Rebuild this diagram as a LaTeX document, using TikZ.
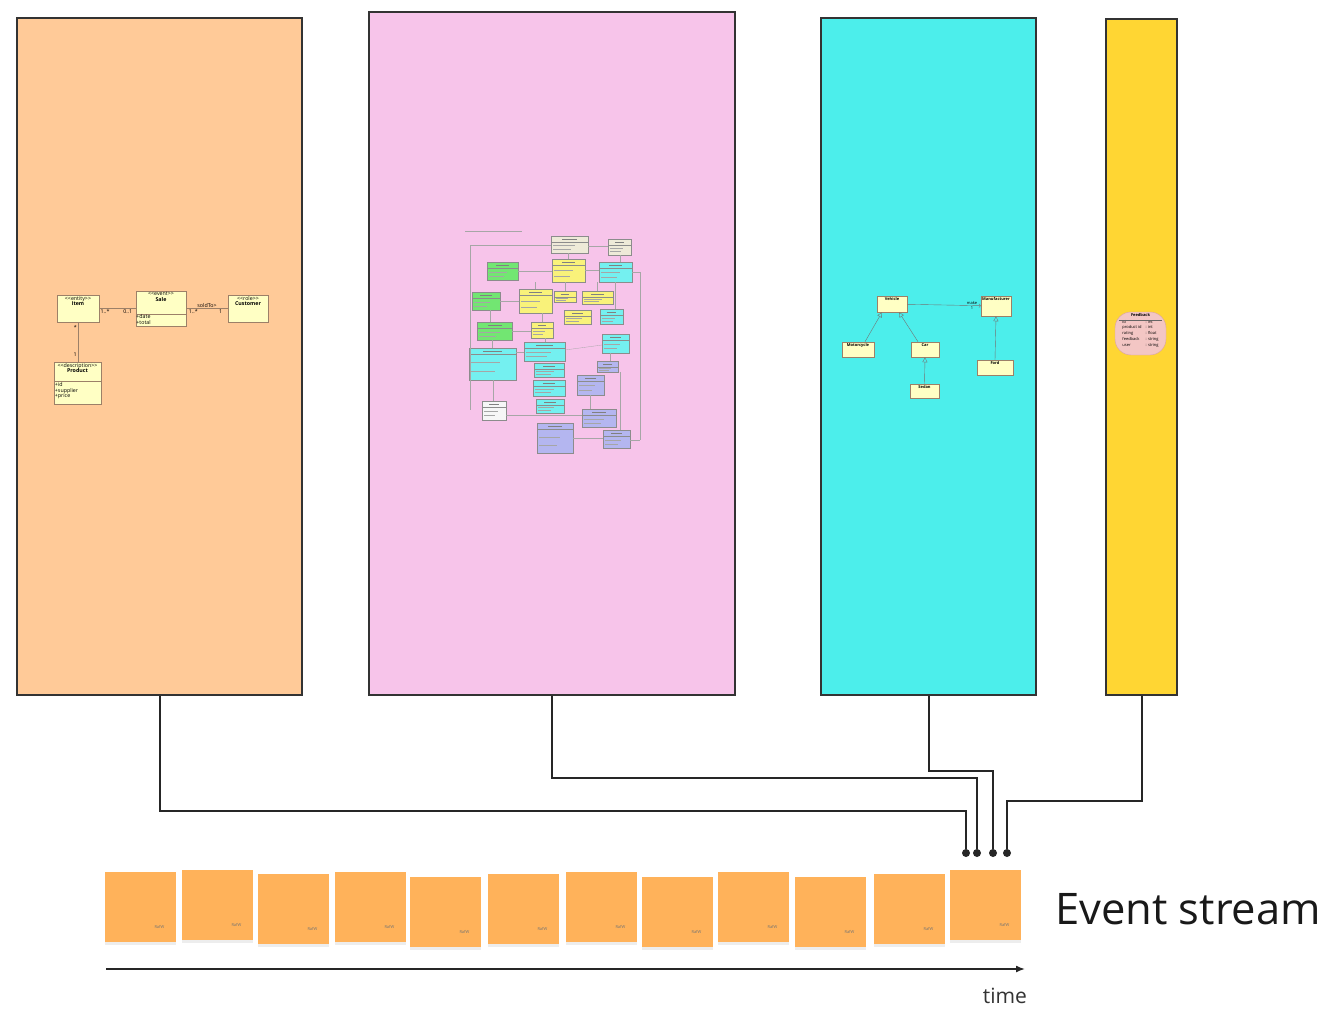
\documentclass[tikz,border=0pt]{standalone}
\usepackage{fontspec}
\setmainfont{Open Sans}
\usetikzlibrary{positioning, arrows.meta, shadows, calc}

\definecolor{panelorange}{HTML}{FFCA98}
\definecolor{panelpink}{HTML}{F7C4EA}
\definecolor{panelcyan}{HTML}{4CEEEB}
\definecolor{panelyellow}{HTML}{FFD633}
\definecolor{notefill}{HTML}{FFB25A}
\definecolor{umlfill}{HTML}{FFFFC4}
\definecolor{umledge}{HTML}{9C8068}
\definecolor{fbfill}{HTML}{F3C6C4}
\definecolor{fbedge}{HTML}{D9A3A0}
\definecolor{pbeige}{HTML}{EEEAD8}
\definecolor{pgreen}{HTML}{72E672}
\definecolor{pyellow}{HTML}{F9F27A}
\definecolor{pcyan}{HTML}{74F0F0}
\definecolor{plav}{HTML}{B4B6F0}
\definecolor{pwhite}{HTML}{F6F6F6}

\newcommand{\umlfont}{\fontsize{4}{4.4}\selectfont}
\newcommand{\salesfont}{\fontsize{5.3}{5.8}\selectfont}
\newcommand{\stereo}[1]{<{}<#1>{}>}

\begin{document}
\begin{tikzpicture}[
    x = 1pt, y = -1pt,
    panel/.style    = {draw = black!80, line width = 2pt, anchor = north west, inner sep = 0pt},
    umlcls/.style   = {draw = umledge, fill = umlfill, line width = 0.5pt, inner sep = 0pt},
    umltitle/.style = {anchor = north, align = center, font = \umlfont, inner sep = 1.2pt},
    umlattr/.style  = {anchor = north west, align = left, font = \umlfont, inner sep = 1pt},
    umlline/.style  = {draw = umledge, line width = 0.5pt},
    mult/.style     = {font = \umlfont, inner sep = 1pt},
    gen/.style      = {draw = black!55, line width = 0.4pt, -{Triangle[open, length = 5pt, width = 5pt]}},
    assoc/.style    = {draw = black!55, line width = 0.4pt, -{To[length = 2pt]}},
    pbox/.style     = {draw = black!45, line width = 0.4pt},
    plink/.style    = {draw = black!35, line width = 0.3pt},
    note/.style     = {fill = notefill, anchor = north west, minimum width = 71, minimum height = 70, inner sep = 0pt,
                       drop shadow = {shadow xshift = 0pt, shadow yshift = -2.5pt, opacity = 0.07, fill = black}},
    notetag/.style  = {font = \fontsize{4}{4}\selectfont, text = black!55, inner sep = 0pt},
    conn/.style     = {draw = black!85, line width = 2pt},
    linkdot/.style  = {circle, fill = black!85, inner sep = 0pt, minimum size = 8pt},
    timeline/.style = {draw = black!85, line width = 1.5pt, -{Latex[length = 9pt, width = 7pt]}},
]

\useasboundingbox (0,0) rectangle (1334,1022);
\fill[white] (0,0) rectangle (1334,1022);

% ---------- the four panels ----------
\node[panel, fill = panelorange, minimum width = 285, minimum height = 677] (sales)         at (16,17)   {};
\node[panel, fill = panelpink,   minimum width = 366, minimum height = 683] (domain)        at (368,11)  {};
\node[panel, fill = panelcyan,   minimum width = 215, minimum height = 677] (vehicles)      at (820,17)  {};
\node[panel, fill = panelyellow, minimum width = 71,  minimum height = 676] (feedbackpanel) at (1105,18) {};

% ---------- sales model (orange) ----------
\begin{scope}[umltitle/.append style = {font = \salesfont}, umlattr/.append style = {font = \salesfont},
              mult/.append style = {font = \salesfont}]
\node[umlcls, minimum width = 42, minimum height = 27,
      label = {[umltitle]north:{\stereo{entity}\\\textbf{Item}}}] (item) at (78,308.5) {};
\node[umlcls, minimum width = 50, minimum height = 35,
      label = {[umltitle]north:{\stereo{event}\\\textbf{Sale}}}] (sale) at (161,308.5) {};
\node[umlcls, minimum width = 40, minimum height = 27,
      label = {[umltitle]north:{\stereo{role}\\\textbf{Customer}}}] (customer) at (248,308.5) {};
\node[umlcls, minimum width = 47, minimum height = 42,
      label = {[umltitle]north:{\stereo{description}\\\textbf{Product}}}] (product) at (77.5,383) {};

\draw[umlline] ([yshift = -5.5pt]sale.west) -- ([yshift = -5.5pt]sale.east);
\node[umlattr, inner sep = 0.5pt] (saleattr) at ([yshift = -5.5pt]sale.west) {+date\\+total};
\draw[umlline] ([yshift = 2pt]product.west) -- ([yshift = 2pt]product.east);
\node[umlattr] (productattr) at ([yshift = 2pt]product.west) {+id\\+supplier\\+price};

\draw[umlline] (item) -- node[mult, pos = 0.16, below] {1..*} node[mult, pos = 0.78, below] {0..1} (sale);
\draw[umlline] (sale) -- node[mult, midway, above] {soldTo>{}}
    node[mult, pos = 0.17, below] {1..*} node[mult, pos = 0.83, below] {1} (customer);
\draw[umlline] (item.south) -- node[mult, pos = 0.12, left] {*} node[mult, pos = 0.82, left] {1} (item.south |- product.north);
\end{scope}

% ---------- domain model (pink), too small to read ----------
\foreach \xa/\ya/\xb/\yb/\bc in {
    551/236/588/253/pbeige, 608/239/631/255/pbeige,
    487/262/518/280/pgreen, 552/259/585/282/pyellow, 599/262/632/282/pcyan,
    472/292/500/310/pgreen, 519/289/552/313/pyellow, 554/291/576/302/pyellow, 582/291/613/304/pyellow,
    564/310/591/324/pyellow, 600/309/623/324/pcyan, 477/322/512/340/pgreen, 531/322/553/338/pyellow,
    602/334/629/353/pcyan, 524/342/565/361/pcyan, 469/348/516/380/pcyan, 534/363/564/377/pcyan,
    533/380/565/396/pcyan, 536/399/564/413/pcyan, 597/361/618/372/plav, 577/375/604/395/plav,
    482/401/506/420/pwhite, 582/409/616/427/plav, 537/423/573/453/plav, 603/430/630/448/plav} {
    \draw[pbox, fill = \bc] (\xa,\ya) rectangle (\xb,\yb);
    \draw[black!50, line width = 0.5pt] ({\xa+0.3*(\xb-\xa)},{\ya+3}) -- ({\xb-0.3*(\xb-\xa)},{\ya+3});
    \draw[pbox] (\xa,{\ya+6}) -- (\xb,{\ya+6});
    \draw[black!35, line width = 0.4pt] ({\xa+2},{\ya+6+(\yb-\ya-6)/3}) -- ({\xb-0.35*(\xb-\xa)},{\ya+6+(\yb-\ya-6)/3});
    \draw[black!35, line width = 0.4pt] ({\xa+2},{\ya+6+2*(\yb-\ya-6)/3}) -- ({\xb-0.45*(\xb-\xa)},{\ya+6+2*(\yb-\ya-6)/3});
}
\foreach \xa/\ya/\xb/\yb in {
    518/271/552/271, 588/246/608/246, 585/270/599/270, 568/253/568/259, 620/255/620/262,
    535/282/535/289, 565/282/565/291, 597/282/597/291, 615/282/615/309, 500/301/519/301,
    490/310/490/322, 512/331/531/331, 542/313/542/322, 545/338/545/342, 492/340/492/348,
    516/352/524/352, 565/350/602/345, 493/380/493/401, 506/415/582/415, 590/395/590/409,
    573/438/603/438, 620/372/620/430, 610/353/610/361, 470/245/551/245, 470/245/470/410,
    632/272/640/272, 640/272/640/440, 630/440/640/440, 465/231/522/231} {
    \draw[plink] (\xa,\ya) -- (\xb,\yb);
}

% ---------- vehicle model (cyan) ----------
\node[umlcls, minimum width = 30, minimum height = 16,
      label = {[umltitle]north:\textbf{Vehicle}}] (vehicle) at (892,304) {};
\node[umlcls, minimum width = 30, minimum height = 20,
      label = {[umltitle]north:\textbf{Manufacturer}}] (manufacturer) at (996,306) {};
\node[umlcls, minimum width = 32, minimum height = 15,
      label = {[umltitle]north:\textbf{Motorcycle}}] (motorcycle) at (858,349.5) {};
\node[umlcls, minimum width = 28, minimum height = 15,
      label = {[umltitle]north:\textbf{Car}}] (car) at (925,349.5) {};
\node[umlcls, minimum width = 29, minimum height = 14,
      label = {[umltitle]north:\textbf{Sedan}}] (sedan) at (924.5,391) {};
\node[umlcls, minimum width = 36, minimum height = 15,
      label = {[umltitle]north:\textbf{Ford}}] (ford) at (995,367.5) {};

\draw[assoc] (vehicle) -- node[mult, pos = 0.88, above] {make} node[mult, pos = 0.88, below] {1} (manufacturer);
\draw[gen] ([xshift = 7pt]motorcycle.north) -- ([xshift = -10pt]vehicle.south);
\draw[gen] ([xshift = -7pt]car.north) -- ([xshift = 7pt]vehicle.south);
\draw[gen] (sedan.north) -- (car.south);
\draw[gen] (ford.north) -- (manufacturer.south);

% ---------- feedback model (yellow) ----------
\node[draw = fbedge, fill = fbfill, line width = 0.4pt, rounded corners = 16pt,
      minimum width = 51, minimum height = 43, inner sep = 0pt, font = \fontsize{4}{5.8}\selectfont,
      label = {[umltitle]north:\textbf{Feedback}}] (feedback) at (1140.5,333.5)
      {\begin{tabular}{@{}l@{\hspace{4pt}}l@{}}
       id & : int\\ product id & : int\\ rating & : float\\ feedback & : string\\ user & : string
       \end{tabular}};
\draw[draw = black!60, line width = 0.4pt] ($(feedback.west)+(4,-13.5)$) -- ($(feedback.east)+(-4,-13.5)$);

% ---------- connectors into the stream ----------
\node[linkdot] (d1) at (966,853)  {};
\node[linkdot] (d2) at (977,853)  {};
\node[linkdot] (d3) at (993,853)  {};
\node[linkdot] (d4) at (1007,853) {};

\draw[conn] (sales.south)         -- ++(0,115) -| (d1);
\draw[conn] (domain.south)        -- ++(0,82)  -| (d2);
\draw[conn] (vehicles.south)      -- ++(0,75)  -| (d3);
\draw[conn] (feedbackpanel.south) -- ++(0,105) -| (d4);

% ---------- sticky notes ----------
\foreach \nx/\ny [count = \i] in {105/872, 182/870, 258/874, 335/872, 410/877, 488/874,
                                  566/872, 642/877, 718/872, 795/877, 874/874, 950/870} {
    \node[note] (note\i) at (\nx,\ny) {};
    \node[notetag] (tag\i) at ([xshift = -17pt, yshift = 15pt]note\i.south east) {RafW};
}

% ---------- time axis ----------
\coordinate (tstart) at (106,969);
\coordinate (tend)   at (1025,969);
\draw[timeline] (tstart) -- (tend);
\node[font = \fontsize{21}{24}\selectfont, text = black!80, inner sep = 0pt] (time) at (1005,996) {time};
\node[font = \fontsize{43.5}{50}\selectfont, text = black!90, inner sep = 0pt, anchor = west] (stream) at (1055,909) {Event stream};

\end{tikzpicture}
\end{document}
